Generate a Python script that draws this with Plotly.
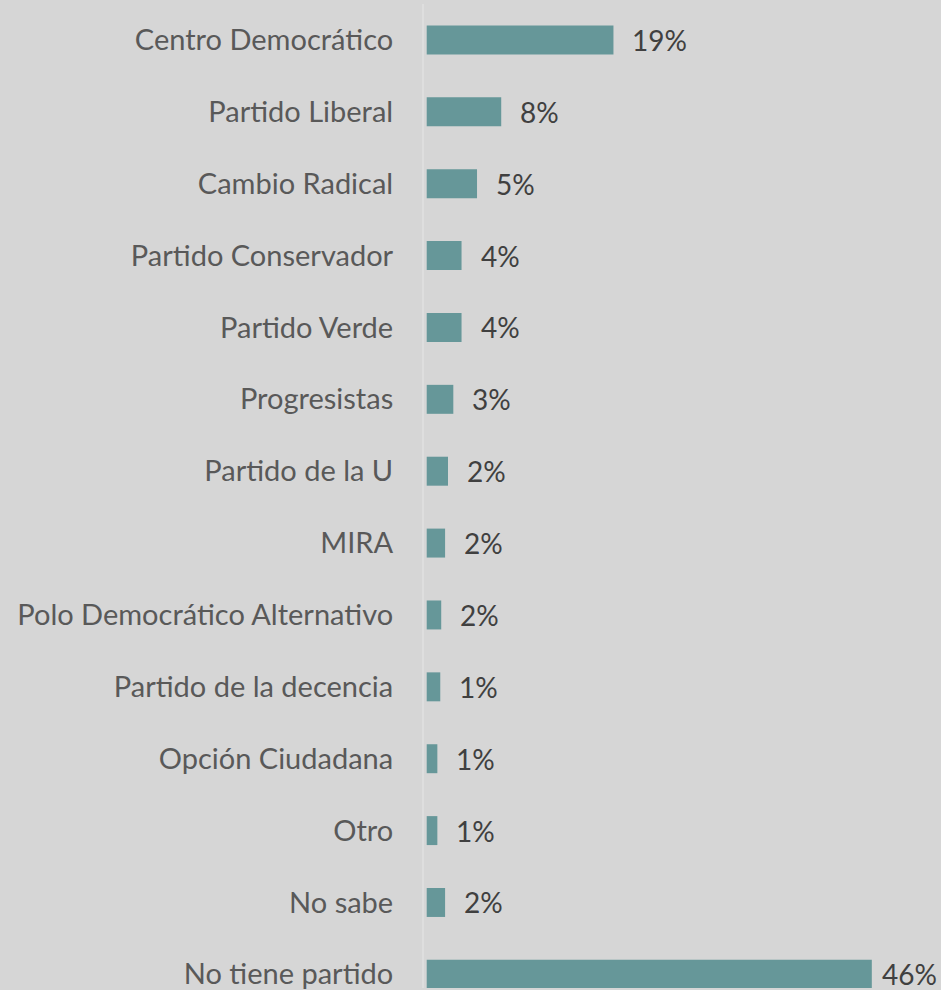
import plotly.graph_objects as go

categories = [
    "Centro Democrático", "Partido Liberal", "Cambio Radical", "Partido Conservador",
    "Partido Verde", "Progresistas", "Partido de la U", "MIRA",
    "Polo Democrático Alternativo", "Partido de la decencia", "Opción Ciudadana",
    "Otro", "No sabe", "No tiene partido",
]
values = [19.3, 7.7, 5.2, 3.6, 3.6, 2.75, 2.2, 1.9, 1.5, 1.4, 1.1, 1.1, 1.9, 46.0]
value_labels = ["19%", "8%", "5%", "4%", "4%", "3%", "2%", "2%", "2%", "1%", "1%", "1%", "2%", "46%"]

BG = "#d6d6d6"
BAR = "#669799"
FONT = "Lato"

fig = go.Figure(go.Bar(
    x=values, y=categories, orientation="h",
    marker=dict(color=BAR, line=dict(width=0)),
    hoverinfo="skip",
))

annotations = []
for c, v, t in zip(categories, values, value_labels):
    annotations.append(dict(
        x=v, y=c, xref="x", yref="y", text=t, showarrow=False,
        xanchor="left", yanchor="middle", xshift=17 if v < 40 else 8,
        font=dict(family=FONT, size=28, color="#404040"),
    ))

fig.update_layout(
    width=941, height=990,
    margin=dict(l=424, r=0, t=4, b=0, pad=0),
    paper_bgcolor=BG, plot_bgcolor=BG,
    bargap=0.597,
    showlegend=False,
    annotations=annotations,
    xaxis=dict(range=[-0.28, 53.15], showgrid=False, zeroline=False,
               showticklabels=False, ticks="", showline=False, fixedrange=True),
    yaxis=dict(type="category", categoryorder="array", categoryarray=categories,
               range=[13.19, -0.5], showgrid=False, zeroline=False,
               showline=True, linecolor="#dedede", linewidth=2, layer="below traces",
               ticks="", ticklabelstandoff=23, fixedrange=True,
               tickfont=dict(family=FONT, size=29, color="#595959")),
)

fig.write_html(
    "out.html",
    config={"displayModeBar": False},
    post_script="document.body.style.margin='0';document.body.style.overflow='hidden';",
)
